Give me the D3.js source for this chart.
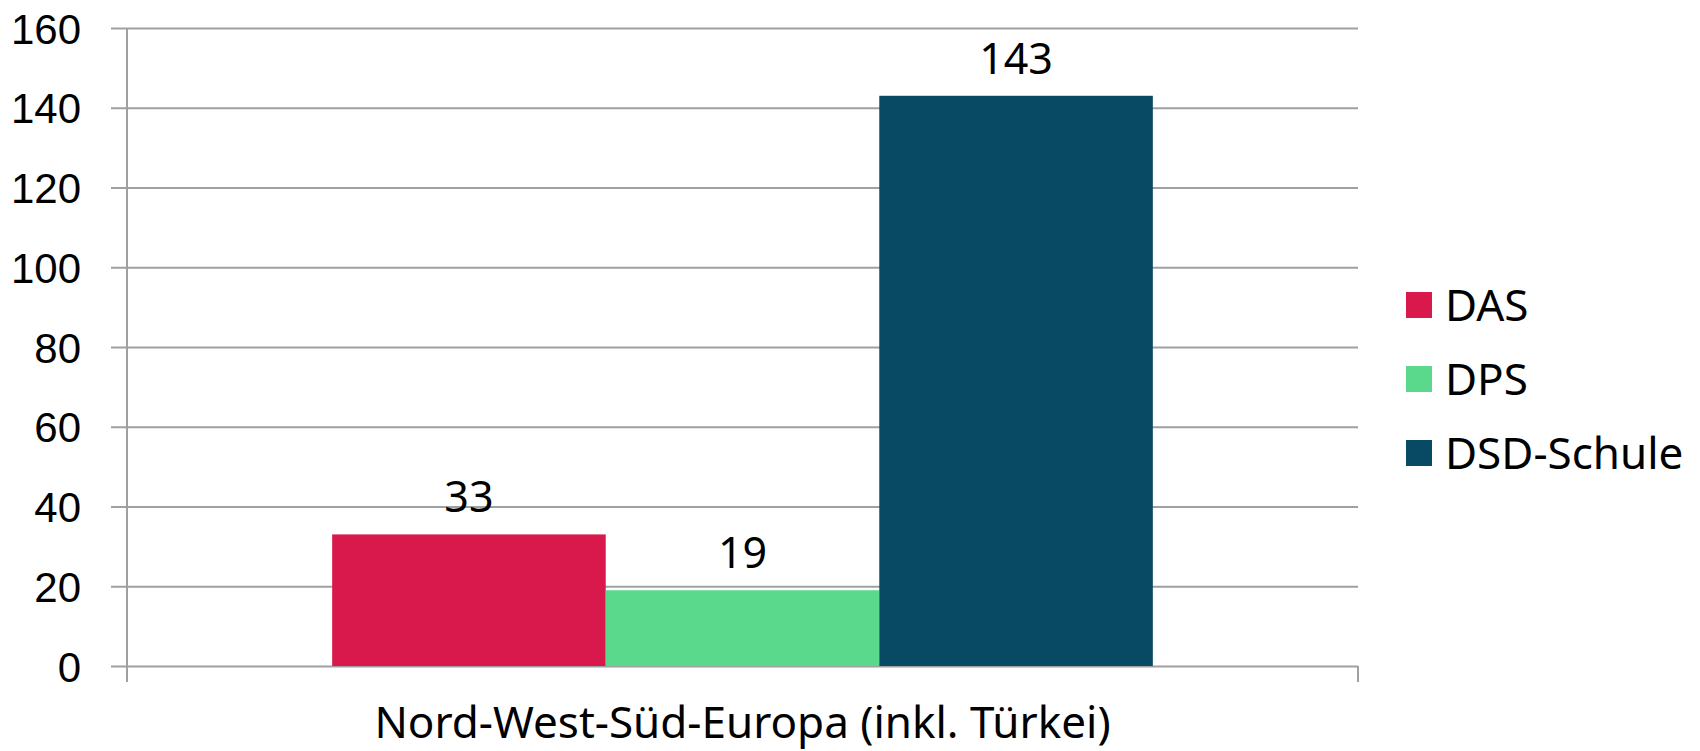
<!DOCTYPE html>
<html>
<head>
<meta charset="utf-8">
<script src="https://cdn.jsdelivr.net/npm/d3@7"></script>
<style>
  body { margin: 0; background: #fff; }
  svg { display: block; font-family: "Noto Sans", sans-serif; }
</style>
</head>
<body>
<script>
const categories = ["Nord-West-Süd-Europa (inkl. Türkei)"];
const series = ["DAS", "DPS", "DSD-Schule"];
const values = [33, 19, 143];
const colors = ["#d9184b", "#5ad98c", "#084a63"];
const yTicks = [0, 20, 40, 60, 80, 100, 120, 140, 160];

const width = 1700;
const height = 751;
const plotLeft = 127, plotRight = 1358, plotTop = 28, plotBottom = 666;
const gridColor = "#a0a0a0";

const svg = d3.select("body")
  .append("svg")
  .attr("width", width)
  .attr("height", height);

const y = d3.scaleLinear()
  .domain([0, 160])
  .range([plotBottom, plotTop]);

const xCat = d3.scaleBand()
  .domain(categories)
  .range([plotLeft, plotRight]);

const xSeries = d3.scaleBand()
  .domain(series)
  .range([0, xCat.bandwidth()])
  .paddingInner(0)
  .paddingOuter(0.75);

const color = d3.scaleOrdinal().domain(series).range(colors);

// y axis + gridlines
const yAxis = svg.append("g")
  .attr("transform", `translate(${plotLeft},0)`)
  .call(d3.axisLeft(y).tickValues(yTicks).tickSize(0).tickPadding(46));

yAxis.select(".domain").remove();
yAxis.selectAll(".tick line")
  .attr("x1", -16)
  .attr("x2", plotRight - plotLeft)
  .attr("stroke", gridColor)
  .attr("stroke-width", 2);
yAxis.selectAll(".tick text")
  .attr("fill", "#000")
  .style("font-size", "42px")
  .attr("dy", "0.36em");

// vertical axis line
svg.append("line")
  .attr("x1", plotLeft).attr("x2", plotLeft)
  .attr("y1", plotTop).attr("y2", plotBottom + 16)
  .attr("stroke", gridColor)
  .attr("stroke-width", 2);

// category boundary ticks
svg.selectAll(".cat-tick")
  .data(xCat.range())
  .enter()
  .append("line")
  .attr("class", "cat-tick")
  .attr("x1", d => d).attr("x2", d => d)
  .attr("y1", plotBottom).attr("y2", plotBottom + 16)
  .attr("stroke", gridColor)
  .attr("stroke-width", 2);

// bars
const groups = svg.selectAll(".cat")
  .data(categories)
  .enter()
  .append("g")
  .attr("class", "cat")
  .attr("transform", d => `translate(${xCat(d)},0)`);

groups.selectAll("rect")
  .data(series.map((s, i) => ({ s, v: values[i] })))
  .enter()
  .append("rect")
  .attr("x", d => xSeries(d.s))
  .attr("y", d => y(d.v))
  .attr("width", xSeries.bandwidth())
  .attr("height", d => y(0) - y(d.v))
  .attr("fill", d => color(d.s));

groups.selectAll(".val")
  .data(series.map((s, i) => ({ s, v: values[i] })))
  .enter()
  .append("text")
  .attr("class", "val")
  .attr("x", d => xSeries(d.s) + xSeries.bandwidth() / 2)
  .attr("y", d => y(d.v) - 22)
  .attr("text-anchor", "middle")
  .style("font-size", "43px")
  .text(d => d.v);

// category label
svg.selectAll(".cat-label")
  .data(categories)
  .enter()
  .append("text")
  .attr("class", "cat-label")
  .attr("x", d => xCat(d) + xCat.bandwidth() / 2)
  .attr("y", 738)
  .attr("text-anchor", "middle")
  .style("font-size", "44px")
  .text(d => d);

// legend
const legend = svg.append("g")
  .attr("transform", "translate(1406,305)");

const item = legend.selectAll("g")
  .data(series)
  .enter()
  .append("g")
  .attr("transform", (d, i) => `translate(0,${i * 74})`);

item.append("rect")
  .attr("x", 0)
  .attr("y", -13)
  .attr("width", 26)
  .attr("height", 26)
  .attr("fill", d => color(d));

item.append("text")
  .attr("x", 39)
  .attr("dy", "0.36em")
  .style("font-size", "44px")
  .text(d => d);
</script>
</body>
</html>
